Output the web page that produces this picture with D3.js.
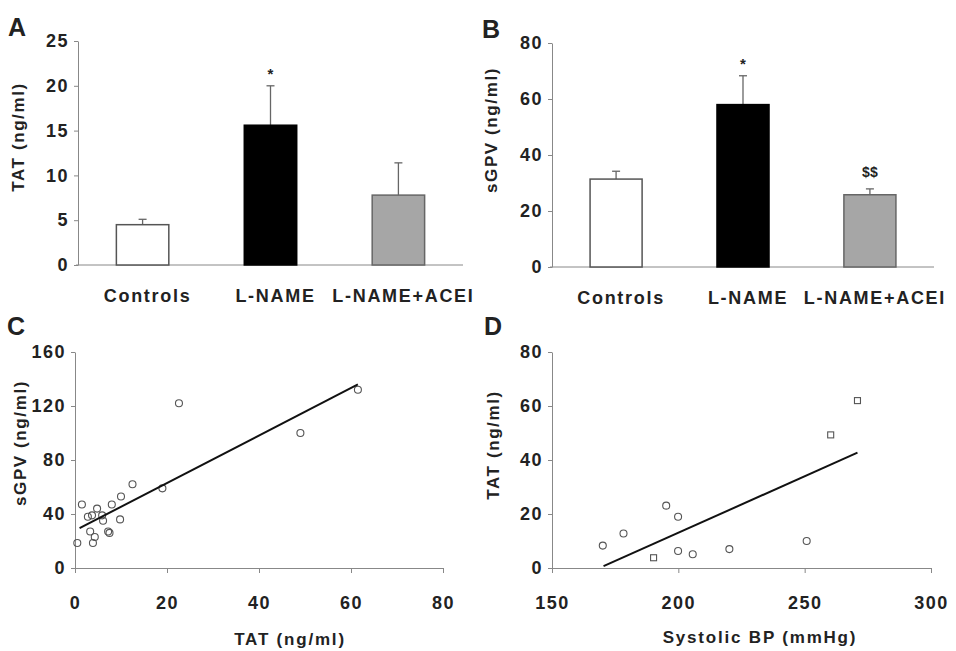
<!DOCTYPE html>
<html>
<head>
<meta charset="utf-8">
<script src="https://cdn.jsdelivr.net/npm/d3@7"></script>
<style>
  body { margin: 0; background: #fff; }
  svg text { font-family: "Liberation Sans", Arial, sans-serif; font-weight: bold; fill: #222; }
</style>
</head>
<body>
<svg id="chart" width="956" height="651"></svg>
<script>
// panel A / B bar data
var groups = ["Controls", "L-NAME", "L-NAME+ACEI"];
var tatMean = [4.5, 15.6, 7.8];
var tatErr = [0.6, 4.4, 3.6];
var tatMarks = ["", "*", ""];
var sgpvMean = [31.4, 58, 25.8];
var sgpvErr = [2.8, 10.3, 2.1];
var sgpvMarks = ["", "*", "$$"];
var barFills = ["#ffffff", "#000000", "#a6a6a6"];
var barStrokes = ["#555555", "#000000", "#666666"];

// panel C scatter: TAT vs sGPV
var cTat  = [61.5, 22.6, 49, 19, 12.5, 10, 9.8, 8, 7.2, 4.8, 3.7, 5.9, 6.1, 3.3, 4.3, 3.9, 0.5, 1.5, 2.8, 7.5];
var cSgpv = [132, 122, 100, 59, 62, 53, 36, 47, 27, 44, 39, 39, 35, 27, 23, 18.5, 18.5, 47, 38, 26];
var cLine = [[1, 29.5], [61.5, 136]];

// panel D scatter: systolic BP vs TAT
var dBp    = [270.9, 260.3, 195.2, 199.9, 178.3, 170.1, 190.2, 199.9, 205.7, 220.2, 250.8];
var dTat   = [62, 49.3, 23.1, 19, 12.8, 8.3, 3.8, 6.3, 5.1, 7, 10];
var dShape = ["sq", "sq", "o", "o", "o", "o", "sq", "o", "o", "o", "o"];
var dLine = [[170.4, 0.7], [270.9, 42.7]];

var svg = d3.select("#chart");
var axisColor = "#888";

function styleAxis(g) {
	g.selectAll("path, line").attr("stroke", axisColor);
	g.selectAll("text")
		.style("font-size", "18px")
		.style("letter-spacing", "1.5px")
		.attr("fill", "#222");
}

function barPanel(label, x0, x1, yTop, yBot, yMax, means, errs, marks, yTitle, titleX, titleY) {
	var x = d3.scaleBand().domain(groups).range([x0, x1]).paddingInner(0.59).paddingOuter(0.3);
	var y = d3.scaleLinear().domain([0, yMax]).range([yBot, yTop]);
	var data = groups.map(function(g, i) {
		return {g: g, v: means[i], e: errs[i], m: marks[i], i: i};
	});

	var yAxis = svg.append("g")
		.attr("transform", "translate(" + x0 + ",0)")
		.call(d3.axisLeft(y).ticks(5).tickSize(4).tickPadding(5).tickSizeOuter(0));
	styleAxis(yAxis);

	svg.append("line")
		.attr("x1", x0 - 2).attr("x2", x1)
		.attr("y1", yBot).attr("y2", yBot)
		.attr("stroke", axisColor);

	// error bars (upper only)
	svg.selectAll(null).data(data).enter().append("line")
		.attr("x1", function(d) { return x(d.g) + x.bandwidth() / 2; })
		.attr("x2", function(d) { return x(d.g) + x.bandwidth() / 2; })
		.attr("y1", function(d) { return y(d.v); })
		.attr("y2", function(d) { return y(d.v + d.e); })
		.attr("stroke", "#666").attr("stroke-width", 1.3);
	svg.selectAll(null).data(data).enter().append("line")
		.attr("x1", function(d) { return x(d.g) + x.bandwidth() / 2 - 4; })
		.attr("x2", function(d) { return x(d.g) + x.bandwidth() / 2 + 4; })
		.attr("y1", function(d) { return y(d.v + d.e); })
		.attr("y2", function(d) { return y(d.v + d.e); })
		.attr("stroke", "#666").attr("stroke-width", 1.3);

	svg.selectAll(null).data(data).enter().append("rect")
		.attr("x", function(d) { return x(d.g); })
		.attr("y", function(d) { return y(d.v); })
		.attr("width", x.bandwidth())
		.attr("height", function(d) { return yBot - y(d.v); })
		.attr("fill", function(d) { return barFills[d.i]; })
		.attr("stroke", function(d) { return barStrokes[d.i]; })
		.attr("stroke-width", 1.5);

	svg.selectAll(null).data(data.filter(function(d) { return d.m; })).enter().append("text")
		.attr("x", function(d) { return x(d.g) + x.bandwidth() / 2; })
		.attr("y", function(d) { return y(d.v + d.e) - (d.m == "*" ? 7 : 12); })
		.attr("text-anchor", "middle")
		.style("font-size", function(d) { return d.m == "*" ? "15px" : "14px"; })
		.text(function(d) { return d.m; });

	svg.selectAll(null).data(groups).enter().append("text")
		.attr("x", function(d) { return x(d) + x.bandwidth() / 2 + 5; })
		.attr("y", yBot + 37)
		.attr("text-anchor", "middle")
		.style("font-size", "18px")
		.style("letter-spacing", "1.7px")
		.text(function(d) { return d; });

	svg.append("text")
		.attr("transform", "translate(" + titleX + "," + titleY + ")rotate(-90)")
		.attr("text-anchor", "middle")
		.style("font-size", "17px")
		.style("letter-spacing", "1.6px")
		.text(yTitle);

	svg.append("text")
		.attr("x", x0 - 70).attr("y", yTop - 5)
		.style("font-size", "25px")
		.text(label);
}

function scatterPanel(label, x0, x1, yTop, yBot, xDom, yDom, xTicks, yTicks, xs, ys, shapes, line, xTitle, yTitle, xTitleX, xTitleY, titleX, titleY) {
	var x = d3.scaleLinear().domain(xDom).range([x0, x1]);
	var y = d3.scaleLinear().domain(yDom).range([yBot, yTop]);

	var yAxis = svg.append("g")
		.attr("transform", "translate(" + x0 + ",0)")
		.call(d3.axisLeft(y).tickValues(yTicks).tickSize(4).tickPadding(5).tickSizeOuter(0));
	styleAxis(yAxis);

	var xAxis = svg.append("g")
		.attr("transform", "translate(0," + yBot + ")")
		.call(d3.axisBottom(x).tickValues(xTicks).tickSize(5).tickPadding(23).tickSizeOuter(0));
	styleAxis(xAxis);

	var pts = xs.map(function(v, i) { return {x: v, y: ys[i], s: shapes ? shapes[i] : "o"}; });

	svg.selectAll(null).data(pts.filter(function(d) { return d.s == "o"; })).enter().append("ellipse")
		.attr("cx", function(d) { return x(d.x); })
		.attr("cy", function(d) { return y(d.y); })
		.attr("rx", 3.5).attr("ry", 3.5)
		.attr("fill", "none").attr("stroke", "#555").attr("stroke-width", 1.1);

	svg.selectAll(null).data(pts.filter(function(d) { return d.s == "sq"; })).enter().append("rect")
		.attr("x", function(d) { return x(d.x) - 3; })
		.attr("y", function(d) { return y(d.y) - 3; })
		.attr("width", 6).attr("height", 6)
		.attr("fill", "none").attr("stroke", "#555").attr("stroke-width", 1.1);

	svg.append("path")
		.datum(line)
		.attr("d", d3.line().x(function(d) { return x(d[0]); }).y(function(d) { return y(d[1]); }))
		.attr("stroke", "#111").attr("stroke-width", 2).attr("fill", "none");

	svg.append("text")
		.attr("x", xTitleX).attr("y", xTitleY)
		.attr("text-anchor", "middle")
		.style("font-size", "17px")
		.style("letter-spacing", "1.8px")
		.text(xTitle);

	svg.append("text")
		.attr("transform", "translate(" + titleX + "," + titleY + ")rotate(-90)")
		.attr("text-anchor", "middle")
		.style("font-size", "17px")
		.style("letter-spacing", "1.6px")
		.text(yTitle);

	svg.append("text")
		.attr("x", x0 - 68).attr("y", 335)
		.style("font-size", "25px")
		.text(label);
}

barPanel("A", 78, 463, 41, 265, 25, tatMean, tatErr, tatMarks, "TAT (ng/ml)", 24, 137);
barPanel("B", 552, 934, 43, 267, 80, sgpvMean, sgpvErr, sgpvMarks, "sGPV (ng/ml)", 497, 130);

scatterPanel("C", 75, 443, 352, 568, [0, 80], [0, 160], [0, 20, 40, 60, 80], [0, 40, 80, 120, 160],
	cTat, cSgpv, null, cLine, "TAT (ng/ml)", "sGPV (ng/ml)", 290, 645, 26, 443);
scatterPanel("D", 552, 931, 352, 568, [150, 300], [0, 80], [150, 200, 250, 300], [0, 20, 40, 60, 80],
	dBp, dTat, dShape, dLine, "Systolic BP (mmHg)", "TAT (ng/ml)", 760, 643, 499, 445);
</script>
</body>
</html>
